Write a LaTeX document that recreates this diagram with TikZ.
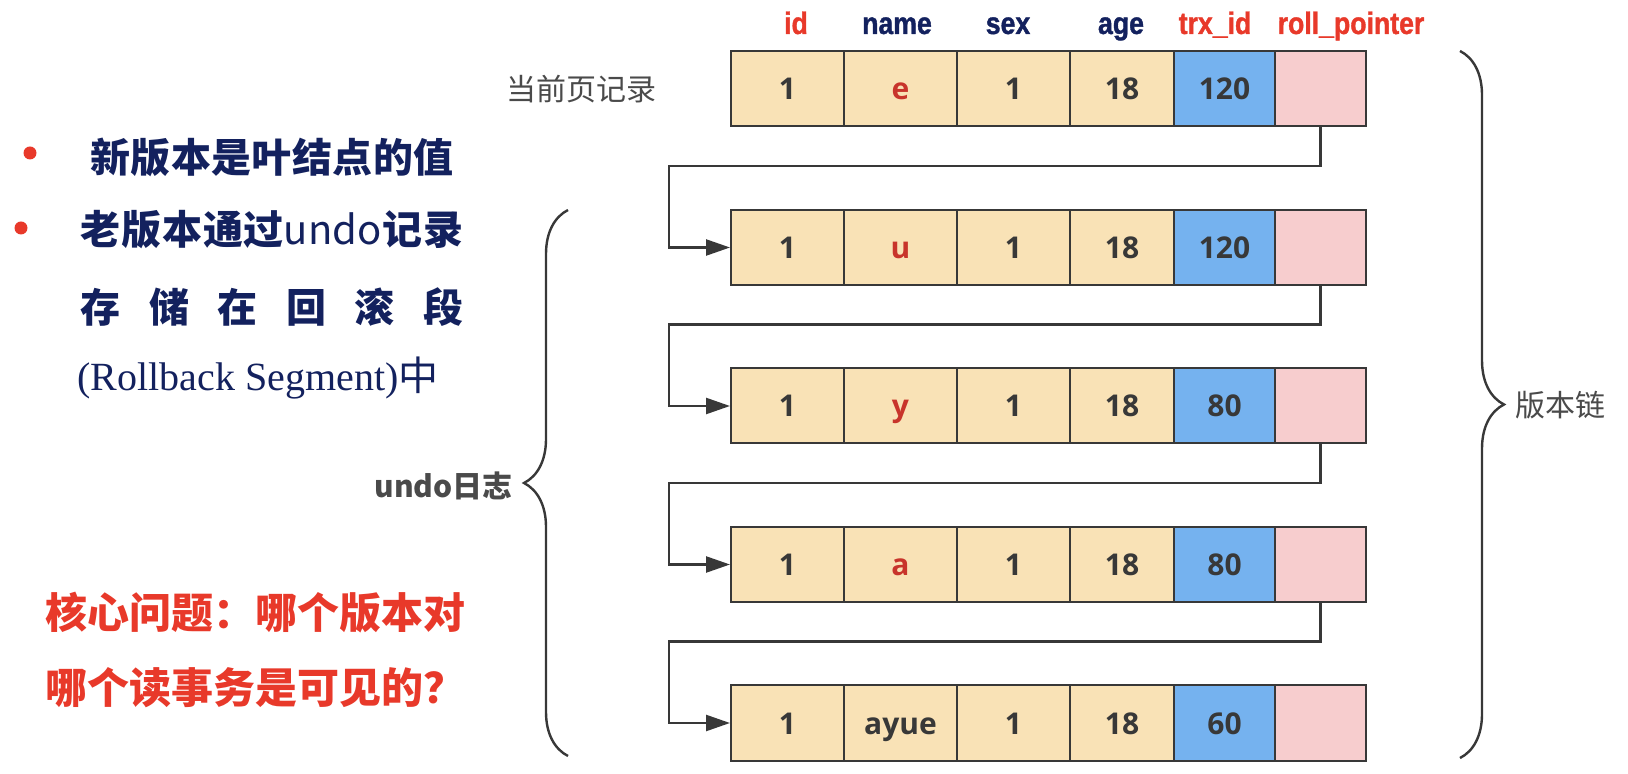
\documentclass[tikz,border=0pt]{standalone}
\usepackage{fontspec}
\usepackage{tikz}
\usetikzlibrary{arrows.meta,decorations.pathreplacing}
\setmainfont{Liberation Serif}
\newfontfamily\cjk{Noto Sans CJK SC}
\newfontfamily\hdrfont[FakeStretch=0.86, BoldFeatures={FakeBold=1.2}]{Liberation Sans}
\newfontfamily\cellfont{Open Sans}
\definecolor{oldbg}{HTML}{F9E2B6}
\definecolor{trxbg}{HTML}{75B2EF}
\definecolor{ptrbg}{HTML}{F7CDCE}
\definecolor{lnc}{HTML}{383838}
\definecolor{celltxt}{HTML}{383838}
\definecolor{navy}{HTML}{13215E}
\definecolor{hot}{HTML}{E8392A}
\definecolor{valred}{HTML}{C8342B}
\definecolor{note}{HTML}{4A4A4A}

\begin{document}
\begin{tikzpicture}[x=0.5pt, y=-0.5pt, every node/.style={inner sep=0pt},
  cell/.style={draw=lnc, line width=1pt, minimum height=37.5pt, text height=11pt, text depth=0pt, text=celltxt, font=\cellfont\bfseries\fontsize{15}{18}\selectfont},
  old/.style={cell, fill=oldbg},
  trx/.style={cell, fill=trxbg, minimum width=50.5pt},
  ptr/.style={cell, fill=ptrbg, minimum width=45.5pt},
  wide/.style={minimum width=56.5pt},
  hdr/.style={anchor=base, font=\hdrfont\bfseries\fontsize{15.5}{18}\selectfont},
  side/.style={text=note, font=\cjk\fontsize{15}{18}\selectfont},
  link/.style={draw=lnc, line width=1.2pt, -{Triangle[length=12pt, width=8pt]}},
  brc/.style={draw=lnc, line width=1.2pt, decorate, decoration={brace, amplitude=22pt}}]
\useasboundingbox (0,0) rectangle (1628,774);

% column heads
\node[hdr, text=hot] (hid) at (796,34) {id};
\node[hdr, text=navy] (hname) at (897,34) {name};
\node[hdr, text=navy] (hsex) at (1008,34) {sex};
\node[hdr, text=navy] (hage) at (1121,34) {age};
\node[hdr, text=hot] (htrx) at (1215,34) {trx\_id};
\node[hdr, text=hot] (hptr) at (1351,34) {roll\_pointer};

% current record
\node[old, wide] (id1) at (787.5,89) {1};
\node[old, wide, text=valred] (nm1) at (900.5,89) {e};
\node[old, wide] (sx1) at (1013.5,89) {1};
\node[old, minimum width=52pt] (ag1) at (1122,89) {18};
\node[trx] (tx1) at (1224.5,89) {120};
\node[ptr] (rp1) at (1320.5,89) {};

% undo records
\node[old, wide] (id2) at (787.5,247.5) {1};
\node[old, wide, text=valred] (nm2) at (900.5,247.5) {u};
\node[old, wide] (sx2) at (1013.5,247.5) {1};
\node[old, minimum width=52pt] (ag2) at (1122,247.5) {18};
\node[trx] (tx2) at (1224.5,247.5) {120};
\node[ptr] (rp2) at (1320.5,247.5) {};

\node[old, wide] (id3) at (787.5,406) {1};
\node[old, wide, text=valred] (nm3) at (900.5,406) {y};
\node[old, wide] (sx3) at (1013.5,406) {1};
\node[old, minimum width=52pt] (ag3) at (1122,406) {18};
\node[trx] (tx3) at (1224.5,406) {80};
\node[ptr] (rp3) at (1320.5,406) {};

\node[old, wide] (id4) at (787.5,564.5) {1};
\node[old, wide, text=valred] (nm4) at (900.5,564.5) {a};
\node[old, wide] (sx4) at (1013.5,564.5) {1};
\node[old, minimum width=52pt] (ag4) at (1122,564.5) {18};
\node[trx] (tx4) at (1224.5,564.5) {80};
\node[ptr] (rp4) at (1320.5,564.5) {};

\node[old, wide] (id5) at (787.5,723) {1};
\node[old, wide] (nm5) at (900.5,723) {ayue};
\node[old, wide] (sx5) at (1013.5,723) {1};
\node[old, minimum width=52pt] (ag5) at (1122,723) {18};
\node[trx] (tx5) at (1224.5,723) {60};
\node[ptr] (rp5) at (1320.5,723) {};

% roll pointers
\coordinate (k1) at (669,166);
\coordinate (k2) at (669,324.5);
\coordinate (k3) at (669,483);
\coordinate (k4) at (669,641.5);
\draw[link] (rp1.south) |- (k1) |- (id2.west);
\draw[link] (rp2.south) |- (k2) |- (id3.west);
\draw[link] (rp3.south) |- (k3) |- (id4.west);
\draw[link] (rp4.south) |- (k4) |- (id5.west);

% braces
\coordinate (vt) at (1460,51);
\coordinate (vb) at (1460,758);
\draw[brc] (vt) -- (vb);
\node[side, anchor=west] (chain) at (1515,405) {版本链};
\coordinate (ut) at (568,210);
\coordinate (ub) at (568,756);
\draw[brc] (ub) -- (ut);
\node[side, anchor=east, font=\cjk\bfseries\fontsize{15}{18}\selectfont] (undo) at (513,486) {undo日志};
\node[side, anchor=west] (cur) at (506,89) {当前页记录};

% notes on the left
\node[circle, fill=hot, minimum size=6.5pt] (dot1) at (30,153) {};
\node[circle, fill=hot, minimum size=6.5pt] (dot2) at (21,228) {};
\node[anchor=west, text=navy, font=\cjk\bfseries\fontsize{20}{24}\selectfont] (n1) at (90,157)
  {\makebox[181.5pt][s]{新\hfill 版\hfill 本\hfill 是\hfill 叶\hfill 结\hfill 点\hfill 的\hfill 值}};
\node[anchor=west, text=navy, font=\cjk\bfseries\fontsize{20}{24}\selectfont] (n2) at (80,230)
  {\makebox[191.5pt][s]{老\hfill 版\hfill 本\hfill 通\hfill 过{\mdseries undo}\hfill 记\hfill 录}};
\node[anchor=west, text=navy, font=\cjk\bfseries\fontsize{20}{24}\selectfont] (n3) at (80,307)
  {\makebox[191.5pt][s]{存\hfill 储\hfill 在\hfill 回\hfill 滚\hfill 段}};
\node[anchor=west, text=navy, font=\fontsize{20}{24}\selectfont] (n4) at (77,378)
  {(Rollback Segment){\cjk 中}};

% key question
\node[anchor=west, text=hot, font=\cjk\bfseries\fontsize{21}{25}\selectfont] (q1) at (45,613) {核心问题：哪个版本对};
\node[anchor=west, text=hot, font=\cjk\bfseries\fontsize{21}{25}\selectfont] (q2) at (45,688) {哪个读事务是可见的？};
\end{tikzpicture}
\end{document}
